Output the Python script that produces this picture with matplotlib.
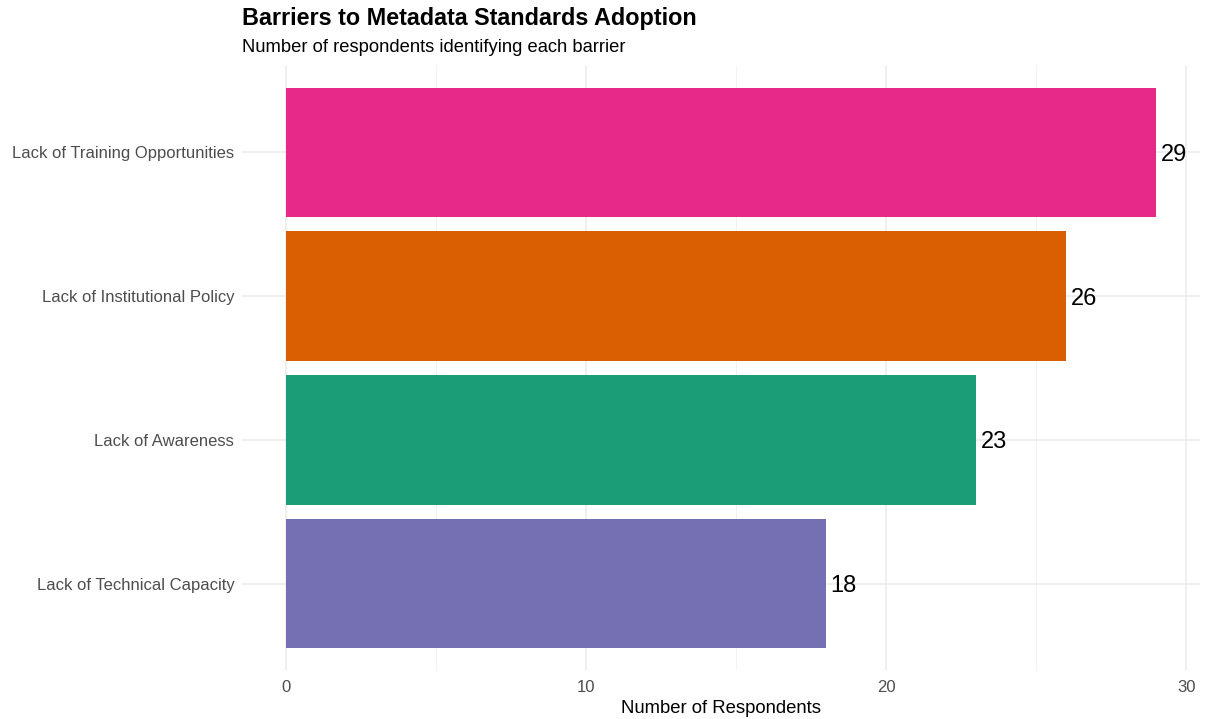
import matplotlib.pyplot as plt
from matplotlib.ticker import MultipleLocator

plt.rcParams['font.family'] = ['Liberation Sans', 'DejaVu Sans']

barriers = [
    "Lack of Technical Capacity",
    "Lack of Awareness",
    "Lack of Institutional Policy",
    "Lack of Training Opportunities",
]
respondents = [18, 23, 26, 29]
colors = ["#7570B3", "#1B9E77", "#D95F02", "#E7298A"]


def main():
    fig = plt.figure(figsize=(12.14, 7.19), dpi=100)
    ax = fig.add_axes([242 / 1214, 1 - 670 / 719, (1200 - 242) / 1214, (670 - 66) / 719])

    pos = list(range(len(barriers)))
    ax.barh(pos, respondents, height=0.9, color=colors, zorder=2)
    for y, v in zip(pos, respondents):
        ax.text(v + 0.15, y, str(v), va="center_baseline", ha="left", fontsize=17, color="black")

    ax.set_xlim(-1.45, 30.45)
    ax.set_ylim(-0.6, len(barriers) - 0.4)
    ax.set_yticks(pos)
    ax.set_yticklabels(barriers)
    ax.xaxis.set_major_locator(MultipleLocator(10))
    ax.xaxis.set_minor_locator(MultipleLocator(5))

    ax.grid(which="major", color="#EBEBEB", linewidth=1.1, zorder=0)
    ax.grid(which="minor", axis="x", color="#F2F2F2", linewidth=0.7, zorder=0)
    ax.set_axisbelow(True)
    for s in ax.spines.values():
        s.set_visible(False)
    ax.tick_params(which="both", length=0, labelsize=12, labelcolor="#4D4D4D")
    ax.tick_params(axis="y", pad=5.5)
    ax.tick_params(axis="x", pad=7)

    ax.set_xlabel("Number of Respondents", fontsize=13.3, labelpad=3.5)
    fig.text(242 / 1214, 1 - 19 / 719, "Barriers to Metadata Standards Adoption",
             fontsize=16.8, fontweight="bold", va="center", ha="left")
    fig.text(242 / 1214, 1 - 47 / 719, "Number of respondents identifying each barrier",
             fontsize=13.2, va="center", ha="left")

    fig.savefig("out.png", dpi=100, facecolor="white")


if __name__ == "__main__":
    main()
